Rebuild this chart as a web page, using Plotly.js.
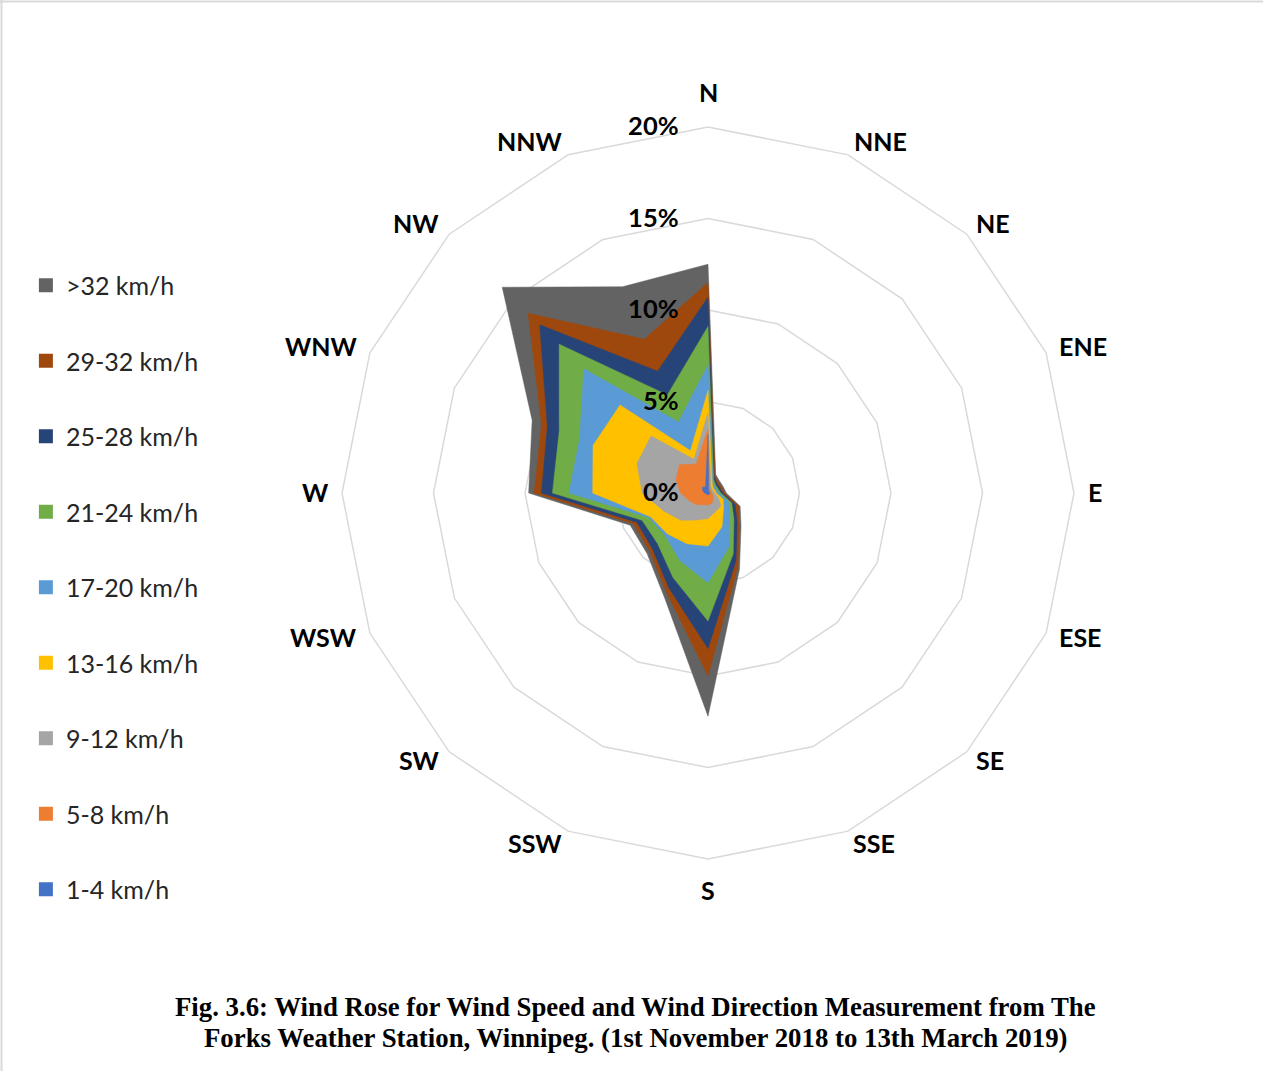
<!DOCTYPE html>
<html>
<head>
<meta charset="utf-8">
<script src="https://cdn.plot.ly/plotly-3.0.1.min.js"></script>
<style>
html,body{margin:0;padding:0;background:#fff;}
#chart{width:1263px;height:1071px;}
</style>
</head>
<body>
<div id="chart"></div>
<script>
// Wind directions (clockwise from North)
const directions = ["N","NNE","NE","ENE","E","ESE","SE","SSE","S","SSW","SW","WSW","W","WNW","NW","NNW"];

// Speed classes, listed as in the legend (top to bottom)
const speedClasses = [">32 km/h","29-32 km/h","25-28 km/h","21-24 km/h","17-20 km/h","13-16 km/h","9-12 km/h","5-8 km/h","1-4 km/h"];

// Cumulative frequency (%) per direction, as read from the filled radar
const over32   = [12.5, 1.1, 0.9, 0.9, 1.0, 1.9, 2.55, 4.5, 12.2, 6.2, 4.7, 4.6, 9.8, 10.4, 15.9, 12.2];
const s29to32  = [11.5, 1.0, 0.8, 0.8, 0.9, 1.8, 2.4, 4.3, 10.0, 5.9, 4.5, 4.4, 9.5, 9.85, 13.9, 9.1];
const s25to28  = [10.7, 0.9, 0.7, 0.7, 0.8, 1.6, 2.25, 4.0, 8.5, 5.6, 4.3, 4.2, 9.1, 9.5, 13.0, 7.2];
const s21to24  = [9.1, 0.8, 0.6, 0.6, 0.7, 1.4, 2.0, 3.6, 7.0, 5.0, 3.9, 3.9, 8.5, 8.8, 11.5, 5.8];
const s17to20  = [7.0, 0.7, 0.5, 0.5, 0.6, 1.2, 1.7, 3.1, 4.9, 4.0, 3.3, 3.5, 7.6, 7.6, 9.6, 4.2];
const s13to16  = [5.6, 0.6, 0.4, 0.4, 0.45, 0.9, 1.2, 2.0, 2.9, 3.0, 3.15, 3.4, 6.3, 6.8, 6.8, 2.5];
const s9to12   = [4.4, 0.4, 0.3, 0.3, 0.35, 0.6, 1.0, 1.1, 1.4, 1.6, 2.1, 2.6, 3.6, 4.2, 4.4, 2.0];
const s5to8    = [3.5, 0.25, 0.2, 0.2, 0.2, 0.3, 0.4, 0.6, 0.65, 0.7, 0.9, 1.1, 1.5, 1.9, 2.2, 1.7];
const s1to4    = [3.2, 0.1, 0.1, 0.1, 0.1, 0.1, 0.1, 0.1, 0.1, 0.1, 0.1, 0.1, 0.2, 0.3, 0.45, 0.35];

const seriesValues = [over32, s29to32, s25to28, s21to24, s17to20, s13to16, s9to12, s5to8, s1to4];
const seriesColors = ["#636363","#9E480E","#264478","#70AD47","#5B9BD5","#FFC000","#A5A5A5","#ED7D31","#4472C4"];

const radialTicks = [0, 5, 10, 15, 20];
const radialTickText = ["0%", "5%", "10%", "15%", "20%"];

// Compass label placement (page pixels), matching the original layout
const labelPos = {
  N: [708, 92], NNE: [880, 141], NE: [993, 223], ENE: [1083, 346],
  E: [1095, 492], ESE: [1080, 637], SE: [990, 760], SSE: [874, 843],
  S: [708, 890], SSW: [535, 843], SW: [419, 760], WSW: [323, 637],
  W: [315, 492], WNW: [321, 346], NW: [416, 223], NNW: [530, 141]
};

const W_PX = 1263, H_PX = 1071;

const traces = [];
// filled areas: largest first so smaller classes sit on top
seriesValues.forEach((vals, i) => {
  traces.push({
    type: "scatterpolar",
    r: vals.concat([vals[0]]),
    theta: directions.concat([directions[0]]),
    mode: "lines",
    fill: "toself",
    fillcolor: seriesColors[i],
    line: {color: seriesColors[i], width: 0.5},
    name: speedClasses[i],
    showlegend: false,
    hoverinfo: "skip"
  });
});
// legend swatches
seriesValues.forEach((vals, i) => {
  traces.push({
    type: "scatterpolar",
    r: [null],
    theta: [directions[0]],
    mode: "markers",
    marker: {symbol: "square", size: 14, color: seriesColors[i]},
    name: speedClasses[i],
    legendgroup: "g" + i,
    showlegend: true,
    hoverinfo: "skip"
  });
});

const labelFont = {family: "Lato, 'Open Sans', sans-serif", size: 25, color: "#000", weight: "bold"};

const annotations = directions.map(d => ({
  xref: "paper", yref: "paper",
  x: labelPos[d][0] / W_PX, y: 1 - labelPos[d][1] / H_PX,
  xanchor: "center", yanchor: "middle", showarrow: false,
  text: d, font: labelFont
}));

const titleFont = {family: "'Liberation Serif', 'Times New Roman', serif", size: 26.8, color: "#000", weight: "bold"};
annotations.push({
  xref: "paper", yref: "paper", x: 635 / W_PX, y: 1 - 1007 / H_PX, xanchor: "center", yanchor: "middle",
  showarrow: false,
  text: "Fig. 3.6: Wind Rose for Wind Speed and Wind Direction Measurement from The",
  font: titleFont
});
annotations.push({
  xref: "paper", yref: "paper", x: 635 / W_PX, y: 1 - 1038 / H_PX, xanchor: "center", yanchor: "middle",
  showarrow: false,
  text: "Forks Weather Station, Winnipeg. (1st November 2018 to 13th March 2019)",
  font: titleFont
});

const layout = {
  width: W_PX,
  height: H_PX,
  margin: {l: 0, r: 0, t: 0, b: 0},
  paper_bgcolor: "#ffffff",
  showlegend: true,
  legend: {
    x: 0.0205, y: 0.7548, xanchor: "left", yanchor: "top",
    font: {family: "Lato, 'Open Sans', sans-serif", size: 25, color: "#262626"},
    tracegroupgap: 40,
    bgcolor: "rgba(0,0,0,0)"
  },
  polar: {
    domain: {x: [342/1263, 1074/1263], y: [212/1071, 944/1071]},
    gridshape: "linear",
    bgcolor: "#ffffff",
    radialaxis: {
      range: [0, 20],
      tickmode: "array",
      tickvals: radialTicks,
      ticktext: radialTickText,
      tickangle: 90,
      angle: 90,
      side: "counterclockwise",
      showline: false,
      ticks: "outside",
      ticklen: 20,
      tickcolor: "rgba(0,0,0,0)",
      showgrid: true,
      gridcolor: "#d9d9d9",
      gridwidth: 1.5,
      tickfont: {family: "Lato, 'Open Sans', sans-serif", size: 25.5, color: "#000", weight: "bold"},
      layer: "above traces"
    },
    angularaxis: {
      type: "category",
      categoryarray: directions,
      direction: "clockwise",
      rotation: 90,
      showgrid: false,
      showline: true,
      linecolor: "#d9d9d9",
      linewidth: 1.5,
      ticks: "",
      showticklabels: false,
      layer: "below traces"
    }
  },
  shapes: [
    {type: "line", xref: "paper", yref: "paper", x0: 0, x1: 1, y0: 1 - 1.5/1071, y1: 1 - 1.5/1071, line: {color: "#d9d9d9", width: 2}},
    {type: "line", xref: "paper", yref: "paper", x0: 1.5/1263, x1: 1.5/1263, y0: 0, y1: 1, line: {color: "#d9d9d9", width: 2}}
  ],
  annotations: annotations
};

Plotly.newPlot("chart", traces, layout, {displayModeBar: false, staticPlot: true});
</script>
</body>
</html>
